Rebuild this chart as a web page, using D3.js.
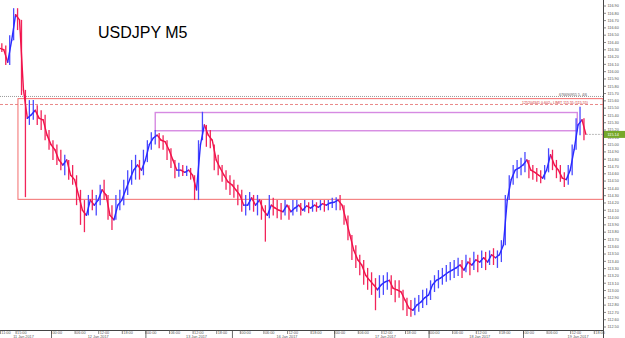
<html>
  <head>
    <meta charset="utf-8">
    <script src="https://cdn.jsdelivr.net/npm/d3@7"></script>
    <style>
      body { margin: 0; background: #fff; }
      text { font-family: "Liberation Sans", Arial, sans-serif; }
    </style>
  </head>
  <body>
<div id="chart"></div>
<script>

let width = 625;
let height = 338;
let plotRight = 603;
let plotBottom = 330;

// hourly bars, trading hours counted from 11 Jan 2017 00:00 (weekend skipped)
let barHours = d3.range(11, 160);

let highs = [116.39,116.36,116.50,116.87,116.87,116.71,115.75,115.61,115.61,115.54,
  115.47,115.41,115.20,115.06,115.00,114.93,114.86,114.79,114.72,114.58,
  114.38,114.24,114.31,114.38,114.31,114.45,114.52,114.31,114.17,114.31,
  114.38,114.52,114.65,114.79,114.86,114.79,114.93,115.06,115.17,115.20,
  115.16,115.13,115.06,114.95,114.79,114.75,114.72,114.71,114.68,114.58,
  115.06,115.45,115.27,115.20,115.00,114.86,114.72,114.65,114.58,114.52,
  114.45,114.38,114.31,114.35,114.31,114.31,114.24,114.17,114.31,114.27,
  114.24,114.20,114.24,114.17,114.24,114.24,114.20,114.24,114.21,114.24,
  114.21,114.24,114.24,114.24,114.27,114.28,114.31,114.17,114.03,113.76,
  113.62,113.49,113.42,113.31,113.25,113.17,113.21,113.21,113.25,113.21,
  113.14,113.14,113.01,112.90,112.87,112.90,112.94,113.01,113.03,113.14,
  113.21,113.28,113.31,113.35,113.39,113.42,113.45,113.42,113.49,113.45,
  113.53,113.49,113.55,113.53,113.55,113.58,113.55,113.69,114.31,114.58,
  114.72,114.79,114.82,114.90,114.79,114.72,114.68,114.65,114.72,114.95,
  114.93,114.79,114.72,114.62,114.72,115.00,115.36,115.52,115.36];

let lows = [116.27,116.09,116.09,116.43,116.57,115.68,114.28,115.27,115.34,115.27,
  115.20,115.06,114.93,114.79,114.72,114.65,114.58,114.52,114.45,114.17,
  113.90,113.80,114.03,114.10,114.03,114.17,114.24,113.97,113.83,113.97,
  114.10,114.17,114.31,114.45,114.52,114.52,114.58,114.76,114.93,115.00,
  114.95,114.93,114.79,114.68,114.54,114.56,114.57,114.57,114.52,114.24,
  114.24,115.06,114.97,114.95,114.65,114.58,114.49,114.38,114.31,114.27,
  114.17,114.08,114.03,114.10,114.08,114.03,113.97,113.67,113.99,114.03,
  113.99,113.97,114.03,113.97,114.03,114.08,114.03,114.08,114.06,114.08,
  114.08,114.10,114.08,114.10,114.13,114.10,114.10,113.90,113.69,113.42,
  113.31,113.21,113.08,113.01,112.94,112.73,112.90,112.94,113.01,112.94,
  112.84,112.90,112.73,112.65,112.64,112.66,112.71,112.76,112.80,112.87,
  112.98,113.03,113.08,113.12,113.14,113.17,113.20,113.17,113.25,113.21,
  113.28,113.25,113.31,113.28,113.35,113.35,113.31,113.39,113.62,114.24,
  114.45,114.54,114.58,114.62,114.54,114.52,114.49,114.47,114.52,114.62,
  114.65,114.54,114.49,114.42,114.45,114.58,114.93,115.13,115.06];

let closes = [116.30,116.13,116.43,116.78,116.71,115.75,115.36,115.41,115.47,115.36,
  115.34,115.13,115.00,114.93,114.79,114.72,114.79,114.58,114.52,114.31,
  114.10,114.03,114.24,114.17,114.24,114.38,114.31,114.03,113.97,114.17,
  114.24,114.38,114.52,114.65,114.72,114.65,114.79,115.00,115.09,115.13,
  115.06,115.04,114.93,114.79,114.65,114.65,114.62,114.65,114.58,114.38,
  115.00,115.27,115.13,115.06,114.79,114.68,114.58,114.49,114.45,114.38,
  114.31,114.17,114.17,114.27,114.17,114.24,114.10,114.03,114.17,114.13,
  114.10,114.08,114.17,114.08,114.13,114.17,114.10,114.16,114.13,114.17,
  114.14,114.19,114.17,114.20,114.21,114.24,114.17,113.97,113.76,113.55,
  113.42,113.35,113.21,113.14,113.08,113.01,113.08,113.12,113.14,113.03,
  113.01,112.98,112.87,112.76,112.73,112.80,112.84,112.90,112.94,113.08,
  113.14,113.17,113.21,113.25,113.28,113.31,113.35,113.28,113.39,113.35,
  113.42,113.39,113.45,113.39,113.49,113.45,113.49,113.62,114.24,114.52,
  114.65,114.68,114.72,114.79,114.65,114.62,114.58,114.54,114.65,114.86,
  114.72,114.65,114.54,114.52,114.65,114.93,115.27,115.34,115.14];
let firstOpen = 116.32;

// price axis labels
let priceTicks = d3.range(1125, 1170).map(d => d / 10);

// time axis
let timeTickHours = [11,15,24,30,36,42,48,54,60,66,72,78,84,90,96,102,108,114,120,126,132,138,144,150,156,162];
let daySeparatorHours = [24,48,70,96,120,144];
let dayLabels = ["11 Jan 2017","12 Jan 2017","13 Jan 2017","16 Jan 2017","17 Jan 2017","18 Jan 2017","19 Jan 2017"];
let dayLabelHours = [17,36,61,84,109,133,158];

// objects on chart
let zoneTop = 115.63, zoneBottom = 114.25, zoneStart = 15.6;
let boxTop = 115.44, boxBottom = 115.19, boxStart = 50.5, boxEnd = 157.8;
let limitPrice = 115.55;
let limitText = "125204341 0.602+ LIMIT 115.55 (115.55)";
let dotPrice = 115.66;
let dotText = "676690955 5, 4/6";
let lastPrice = 115.14;

let x = d3.scaleLinear().domain([24, 144]).range([51, 523]);
let y = d3.scaleLinear().domain([112.5, 116.9]).range([327, 6]);

let bars = barHours.map((h, i) => ({
  h: h,
  hi: highs[i],
  lo: lows[i],
  c: closes[i],
  o: i === 0 ? firstOpen : closes[i - 1]
}));

let svg = d3.select('#chart')
    .append('svg')
    .attr('width', width)
    .attr('height', height);

svg.append('rect').attr('width', width).attr('height', height).attr('fill', '#fff');

let plot = svg.append('g');

// dotted grey line
plot.append('line')
    .attr('x1', 0).attr('x2', plotRight)
    .attr('y1', y(dotPrice)).attr('y2', y(dotPrice))
    .attr('stroke', '#9a9a9a').attr('stroke-dasharray', '1,1').attr('stroke-width', 1);
plot.append('text')
    .attr('x', 587).attr('y', y(dotPrice) - 0.8)
    .attr('text-anchor', 'end').attr('font-size', 3.6).attr('fill', '#555')
    .text(dotText);

// red zone rectangle
plot.append('rect')
    .attr('x', x(zoneStart)).attr('y', y(zoneTop))
    .attr('width', plotRight - x(zoneStart)).attr('height', y(zoneBottom) - y(zoneTop))
    .attr('fill', 'none').attr('stroke', '#f26d6d').attr('stroke-width', 1);

// limit order line
plot.append('line')
    .attr('x1', 0).attr('x2', plotRight)
    .attr('y1', y(limitPrice)).attr('y2', y(limitPrice))
    .attr('stroke', '#e46a6a').attr('stroke-dasharray', '3,2').attr('stroke-width', 0.8);
plot.append('text')
    .attr('x', 588).attr('y', y(limitPrice) - 0.6)
    .attr('text-anchor', 'end').attr('font-size', 3.6).attr('fill', '#d03030')
    .text(limitText);

// violet box
plot.append('rect')
    .attr('x', x(boxStart)).attr('y', y(boxTop))
    .attr('width', x(boxEnd) - x(boxStart)).attr('height', y(boxBottom) - y(boxTop))
    .attr('fill', 'none').attr('stroke', '#d68ae2').attr('stroke-width', 1.4);

// bars: high-low wicks plus open -> close strokes
let barG = plot.append('g');
let up = d => d.c >= d.o;

barG.selectAll('.hl')
    .data(bars)
    .join('line')
    .attr('class', 'hl')
    .attr('x1', d => x(d.h + 0.5)).attr('x2', d => x(d.h + 0.5))
    .attr('y1', d => y(d.hi)).attr('y2', d => y(d.lo))
    .attr('stroke', d => up(d) ? '#4a4aff' : '#f2245a').attr('stroke-width', 1.3);

barG.selectAll('.oc')
    .data(bars)
    .join('line')
    .attr('class', 'oc')
    .attr('x1', d => x(d.h)).attr('x2', d => x(d.h + 1))
    .attr('y1', d => y(d.o)).attr('y2', d => y(d.c))
    .attr('stroke', d => up(d) ? '#2a2aff' : '#f0124a')
    .attr('stroke-width', 1.4).attr('stroke-linecap', 'round');

// last price line
let lastX = x(barHours[barHours.length - 1] + 1);
plot.append('line')
    .attr('x1', lastX).attr('x2', plotRight)
    .attr('y1', y(lastPrice)).attr('y2', y(lastPrice))
    .attr('stroke', '#aaa').attr('stroke-dasharray', '2,1').attr('stroke-width', 0.8);

// title
svg.append('text')
    .attr('x', 98).attr('y', 38)
    .attr('font-size', 16).attr('fill', '#000')
    .text('USDJPY M5');

// price axis
let yAxis = svg.append('g');
yAxis.append('line')
    .attr('x1', plotRight + 0.5).attr('x2', plotRight + 0.5)
    .attr('y1', 0).attr('y2', plotBottom + 8)
    .attr('stroke', '#444').attr('stroke-width', 1);
yAxis.selectAll('.yt')
    .data(priceTicks)
    .join('line')
    .attr('class', 'yt')
    .attr('x1', plotRight).attr('x2', plotRight + 3)
    .attr('y1', d => y(d)).attr('y2', d => y(d))
    .attr('stroke', '#555').attr('stroke-width', 0.7);
yAxis.selectAll('.yl')
    .data(priceTicks)
    .join('text')
    .attr('class', 'yl')
    .attr('x', plotRight + 4.5).attr('y', d => y(d) + 1.3)
    .attr('font-size', 3.8).attr('fill', '#555')
    .text(d => d.toFixed(2));

// current price label
yAxis.append('rect')
    .attr('x', plotRight + 1).attr('y', y(lastPrice) - 3.5)
    .attr('width', width - plotRight - 1).attr('height', 7)
    .attr('fill', '#76a82a');
yAxis.append('text')
    .attr('x', plotRight + 4.5).attr('y', y(lastPrice) + 1.3)
    .attr('font-size', 3.8).attr('fill', '#fff')
    .text(lastPrice.toFixed(2));

// time axis
let xAxis = svg.append('g');
xAxis.append('line')
    .attr('x1', 0).attr('x2', plotRight + 1)
    .attr('y1', plotBottom + 0.5).attr('y2', plotBottom + 0.5)
    .attr('stroke', '#444').attr('stroke-width', 1);
xAxis.selectAll('.xt')
    .data(timeTickHours)
    .join('line')
    .attr('class', 'xt')
    .attr('x1', d => x(d) + 0.5).attr('x2', d => x(d) + 0.5)
    .attr('y1', plotBottom).attr('y2', plotBottom + 4)
    .attr('stroke', '#555').attr('stroke-width', 0.7);
xAxis.selectAll('.xl')
    .data(timeTickHours)
    .join('text')
    .attr('class', 'xl')
    .attr('x', d => x(d) + 1.5).attr('y', plotBottom + 4.2)
    .attr('font-size', 3.8).attr('fill', '#555')
    .text(d => String(d % 24).padStart(2, '0') + ':00');
xAxis.selectAll('.xs')
    .data(daySeparatorHours)
    .join('line')
    .attr('class', 'xs')
    .attr('x1', d => x(d) + 0.5).attr('x2', d => x(d) + 0.5)
    .attr('y1', plotBottom).attr('y2', height)
    .attr('stroke', '#444').attr('stroke-width', 0.8);
xAxis.selectAll('.xd')
    .data(dayLabels)
    .join('text')
    .attr('class', 'xd')
    .attr('x', (d, i) => x(dayLabelHours[i])).attr('y', plotBottom + 7.8)
    .attr('text-anchor', 'middle').attr('font-size', 3.8).attr('fill', '#555')
    .text(d => d);

</script>
  </body>
</html>
